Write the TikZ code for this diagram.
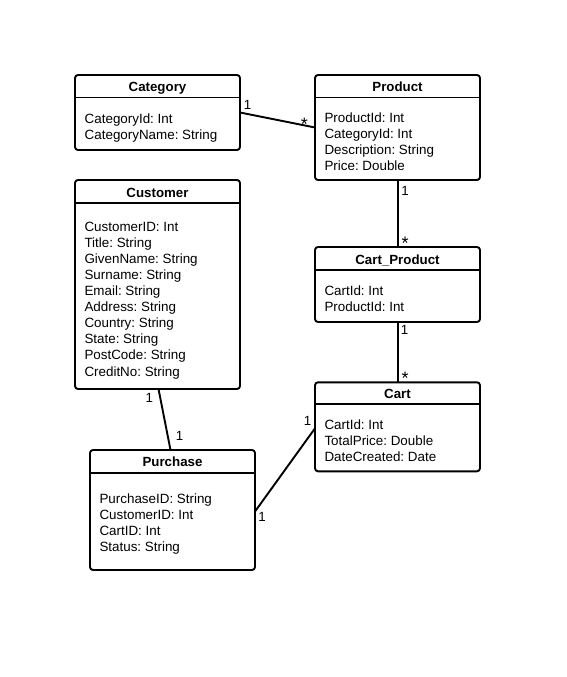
\documentclass[tikz,border=0pt]{standalone}
\usepackage{fontspec}
\setmainfont{Liberation Sans}
\frenchspacing
\begin{document}
\begin{tikzpicture}[x=1pt,y=-1pt,
  cls/.style={draw, line width=1.9pt, rounded corners=3pt, inner sep=0pt, outer sep=0pt},
  sepline/.style={line width=1.9pt},
  ttl/.style={font=\fontsize{13.3}{16}\selectfont\bfseries, anchor=base, inner sep=0pt},
  attr/.style={font=\fontsize{13.4}{16.1}\selectfont, align=left, anchor=north west, inner sep=0pt},
  mult/.style={font=\fontsize{13.3}{16}\selectfont, inner sep=0pt},
  star/.style={font=\fontsize{18}{18}\selectfont, inner sep=0pt},
  conn/.style={line width=1.9pt}]
\useasboundingbox[fill=white] (0,0) rectangle (566,677);

% Category
\node[cls, minimum width=165pt, minimum height=75pt] (cat) at (157.5,112.5) {};
\draw[sepline] (cat.west |- 0,97.5) -- (cat.east |- 0,97.5);
\node[ttl] (catT) at (157.5,91.5) {Category};
\node[attr] (catA) at (84.5,113.2) {CategoryId: Int\\CategoryName: String};

% Product
\node[cls, minimum width=165pt, minimum height=105pt] (prod) at (397.5,127.5) {};
\draw[sepline] (prod.west |- 0,97.5) -- (prod.east |- 0,97.5);
\node[ttl] (prodT) at (397.5,91.5) {Product};
\node[attr] (prodA) at (324.3,112.6) {ProductId: Int\\CategoryId: Int\\Description: String\\Price: Double};

% Customer
\node[cls, minimum width=165pt, minimum height=209pt] (cust) at (157.5,284.5) {};
\draw[sepline] (cust.west |- 0,203.3) -- (cust.east |- 0,203.3);
\node[ttl] (custT) at (157.5,197) {Customer};
\node[attr] (custA) at (84.3,221.6) {CustomerID: Int\\Title: String\\GivenName: String\\Surname: String\\Email: String\\Address: String\\Country: String\\State: String\\PostCode: String\\CreditNo: String};

% Cart_Product
\node[cls, minimum width=165pt, minimum height=75pt] (cp) at (397.5,284.5) {};
\draw[sepline] (cp.west |- 0,270) -- (cp.east |- 0,270);
\node[ttl] (cpT) at (397.5,264) {Cart\_Product};
\node[attr] (cpA) at (324.3,285.8) {CartId: Int\\ProductId: Int};

% Cart
\node[cls, minimum width=165pt, minimum height=89pt] (cart) at (397.5,426.8) {};
\draw[sepline] (cart.west |- 0,404.3) -- (cart.east |- 0,404.3);
\node[ttl] (cartT) at (397.5,398.8) {Cart};
\node[attr] (cartA) at (324.3,419.3) {CartId: Int\\TotalPrice: Double\\DateCreated: Date};

% Purchase
\node[cls, minimum width=165pt, minimum height=120pt] (pur) at (172.5,510) {};
\draw[sepline] (pur.west |- 0,472.7) -- (pur.east |- 0,472.7);
\node[ttl] (purT) at (172.5,466.5) {Purchase};
\node[attr] (purA) at (99.3,493.6) {PurchaseID: String\\CustomerID: Int\\CartID: Int\\Status: String};

% connectors
\draw[conn] (cat.east) -- (prod.west);
\draw[conn] ([xshift=0.5pt]prod.south) -- ([xshift=0.5pt]cp.north);
\draw[conn] ([xshift=0.5pt]cp.south) -- ([xshift=0.5pt]cart.north);
\draw[conn] ([xshift=1pt]cust.south) -- ([xshift=-2pt]pur.north);
\draw[conn] ([yshift=-1.5pt]pur.east) -- ([yshift=-1.5pt]cart.west);

% multiplicities
\node[mult] (m1) at (247.5,105) {1};
\node[star] (m2) at (304.3,124.6) {*};
\node[mult] (m3) at (405,191) {1};
\node[star] (m4) at (405,243.4) {*};
\node[mult] (m5) at (404.5,330) {1};
\node[star] (m6) at (405,378) {*};
\node[mult] (m7) at (149.3,398.3) {1};
\node[mult] (m8) at (179.5,435.7) {1};
\node[mult] (m9) at (307.5,420.7) {1};
\node[mult] (m10) at (262,516.7) {1};
\end{tikzpicture}
\end{document}
